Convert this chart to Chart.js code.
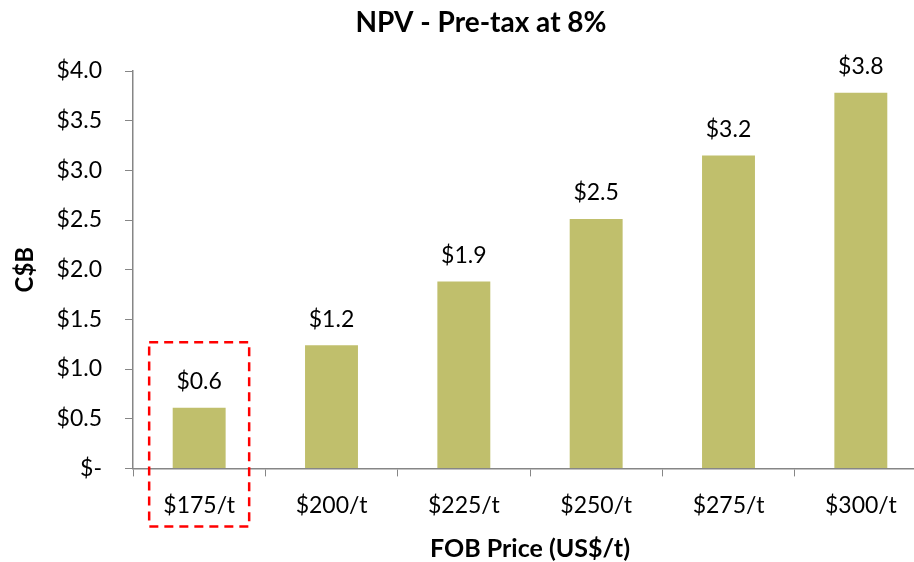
<!DOCTYPE html>
<html>
<head>
<meta charset="utf-8">
<script src="https://cdn.jsdelivr.net/npm/chart.js@4"></script>
<style>
  html, body { margin: 0; padding: 0; background: #fff; overflow: hidden; }
  #wrap { width: 927px; height: 562px; position: relative; }
</style>
</head>
<body>
<div id="wrap"><canvas id="npvChart"></canvas></div>
<script>
const categories = ["$175/t", "$200/t", "$225/t", "$250/t", "$275/t", "$300/t"];
const npvValues = [0.61, 1.24, 1.88, 2.51, 3.15, 3.78];
const valueLabels = ["$0.6", "$1.2", "$1.9", "$2.5", "$3.2", "$3.8"];
const yTicks = [0, 0.5, 1.0, 1.5, 2.0, 2.5, 3.0, 3.5, 4.0];

const fontFamily = "Lato, 'Open Sans', sans-serif";
const axisGray = "#868686";

// value labels above each bar
const barLabels = {
  id: "barLabels",
  afterDatasetsDraw(chart) {
    const ctx = chart.ctx;
    const meta = chart.getDatasetMeta(0);
    ctx.save();
    ctx.font = "23px " + fontFamily;
    ctx.fillStyle = "#000";
    ctx.textAlign = "center";
    ctx.textBaseline = "middle";
    meta.data.forEach((bar, i) => {
      ctx.fillText(valueLabels[i], bar.x, bar.y - 26);
    });
    ctx.restore();
  }
};

// dashed highlight around the first category
const highlightBox = {
  id: "highlightBox",
  afterDraw(chart, args, opts) {
    const x = chart.scales.x;
    const y = chart.scales.y;
    const cx = x.getPixelForValue(opts.index);
    const top = y.getPixelForValue(opts.topValue);
    const bottom = chart.chartArea.bottom + opts.below;
    const ctx = chart.ctx;
    ctx.save();
    ctx.strokeStyle = "#ff0000";
    ctx.lineWidth = 2.5;
    ctx.setLineDash([9, 6]);
    ctx.strokeRect(cx - opts.halfWidth, top, opts.halfWidth * 2, bottom - top);
    ctx.restore();
  }
};

// chart title, centred where the original sits
const chartTitle = {
  id: "chartTitle",
  afterDraw(chart, args, opts) {
    const ctx = chart.ctx;
    ctx.save();
    ctx.font = "bold 28px " + fontFamily;
    ctx.fillStyle = "#000";
    ctx.textAlign = "center";
    ctx.textBaseline = "middle";
    ctx.fillText(opts.text, opts.x, opts.y);
    ctx.restore();
  }
};

new Chart(document.getElementById("npvChart"), {
  type: "bar",
  data: {
    labels: categories,
    datasets: [{
      label: "NPV",
      data: npvValues,
      backgroundColor: "#c0bf6c",
      categoryPercentage: 1.0,
      barPercentage: 0.4
    }]
  },
  options: {
    responsive: true,
    maintainAspectRatio: false,
    animation: false,
    layout: { padding: { top: 71, right: 0, bottom: 0, left: 0 } },
    plugins: {
      legend: { display: false },
      tooltip: { enabled: false },
      chartTitle: { text: "NPV - Pre-tax at 8%", x: 481, y: 23 },
      highlightBox: { index: 0, topValue: 1.27, halfWidth: 50, below: 58 }
    },
    scales: {
      x: {
        grid: {
          display: true,
          drawOnChartArea: false,
          drawTicks: true,
          tickLength: 8,
          color: axisGray,
          offset: true
        },
        border: { color: axisGray, width: 1.5 },
        ticks: {
          color: "#000",
          padding: 15,
          font: { family: fontFamily, size: 23 }
        },
        title: {
          display: true,
          text: "FOB Price (US$/t)",
          color: "#000",
          font: { family: fontFamily, size: 25, weight: "bold" },
          padding: { top: 0, bottom: -2 }
        }
      },
      y: {
        min: 0,
        max: 4,
        afterFit(scale) { scale.width = 133; },
        afterBuildTicks(scale) { scale.ticks = yTicks.map((v) => ({ value: v })); },
        grid: {
          display: true,
          drawOnChartArea: false,
          drawTicks: true,
          tickLength: 8,
          color: axisGray
        },
        border: { color: axisGray, width: 1.5 },
        ticks: {
          color: "#000",
          padding: 23,
          font: { family: fontFamily, size: 23 },
          callback: (v) => (v === 0 ? "$-" : "$" + Number(v).toFixed(1))
        },
        title: {
          display: true,
          text: "C$B",
          color: "#000",
          font: { family: fontFamily, size: 24, weight: "bold" },
          padding: { top: 11, bottom: 4 }
        }
      }
    }
  },
  plugins: [barLabels, highlightBox, chartTitle]
});
</script>
</body>
</html>
